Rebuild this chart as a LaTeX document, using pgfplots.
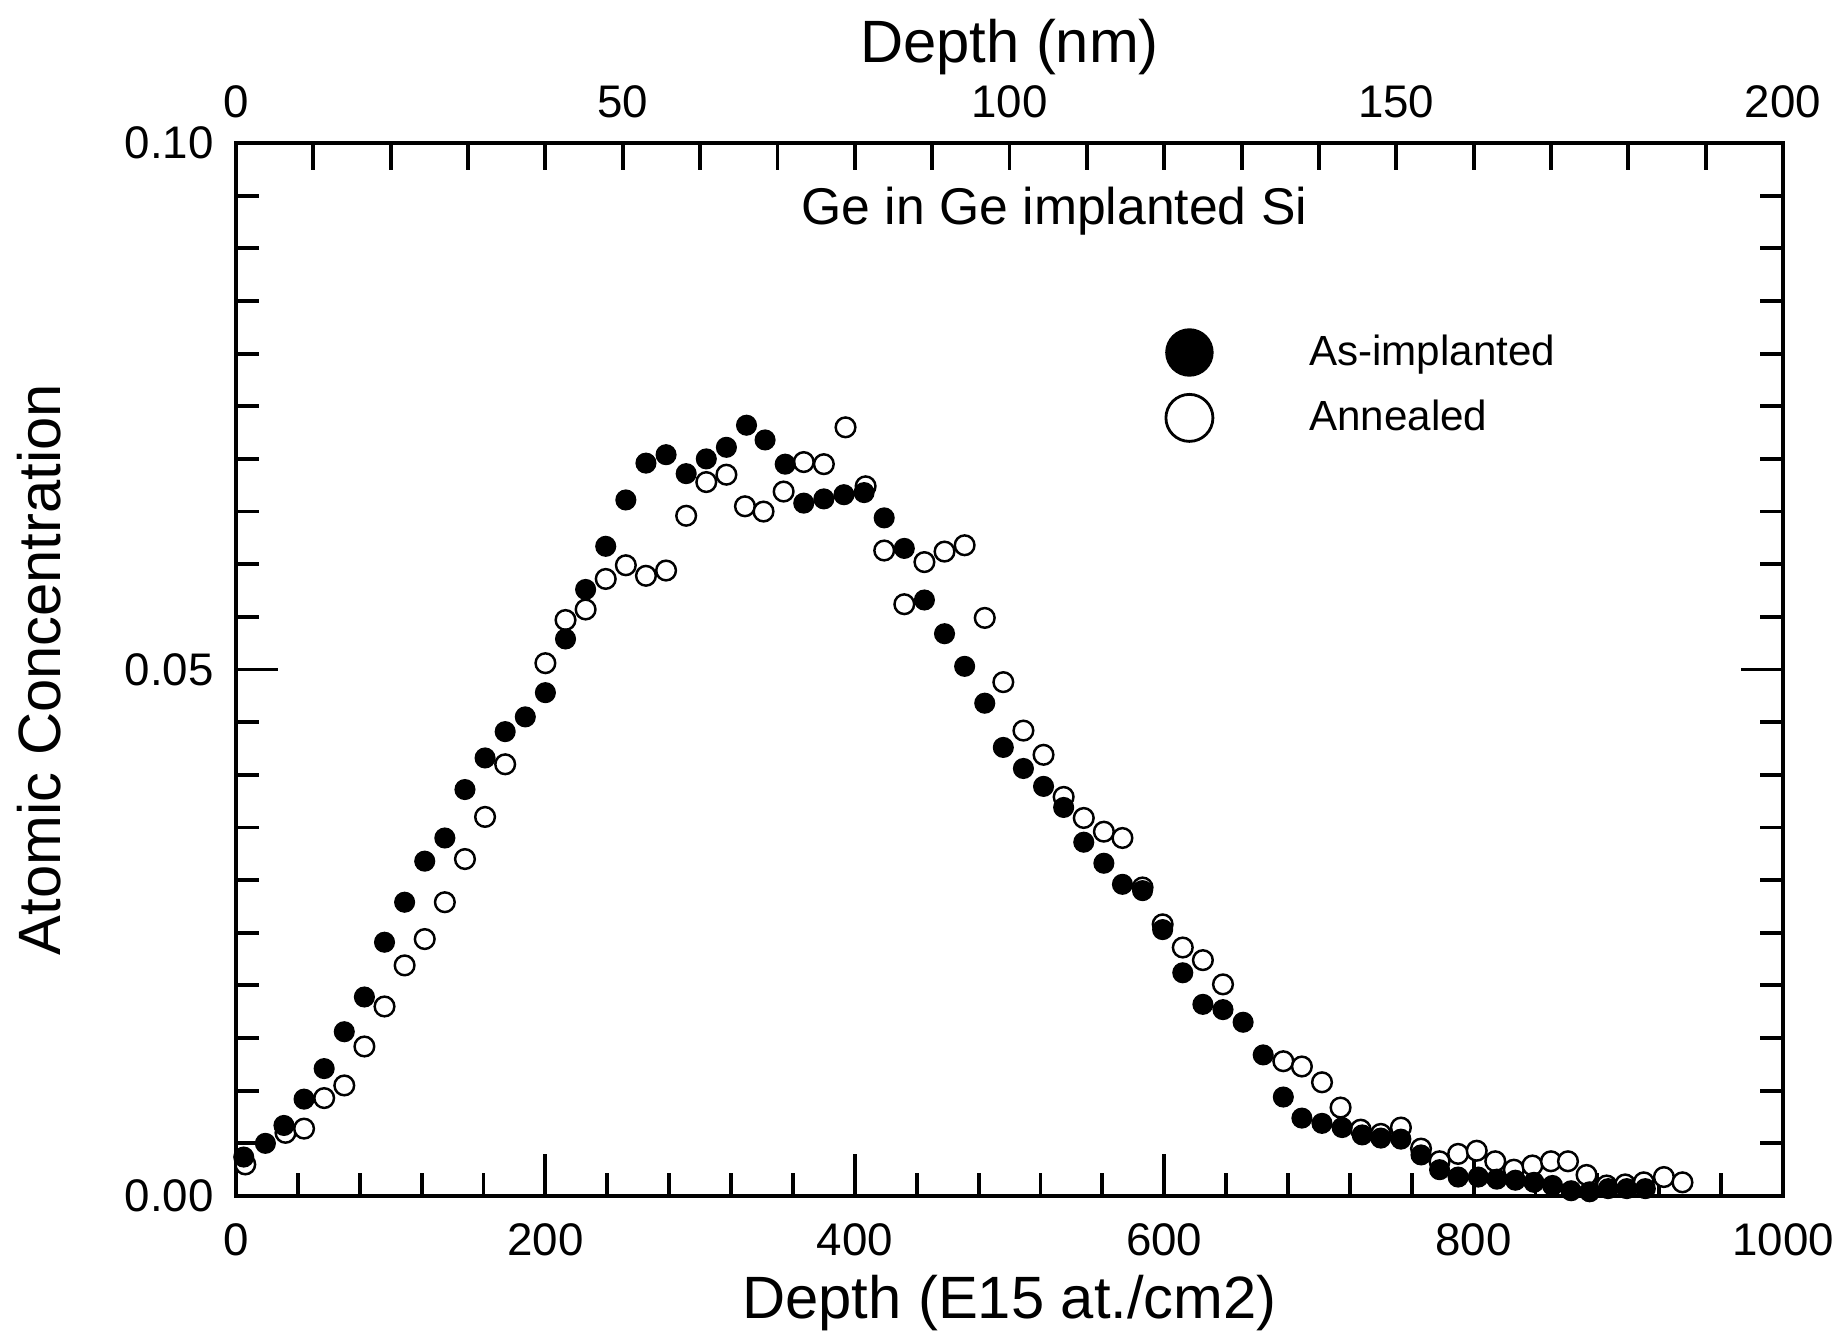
\documentclass[border=0pt]{standalone}
\usepackage{fontspec}
\setmainfont{Liberation Sans}
\usepackage{pgfplots}
\pgfplotsset{compat=1.18}
\usetikzlibrary{calc}

\begin{document}
\begin{tikzpicture}
  % bottom / left / right axes: depth in E15 at./cm2 against concentration
  \begin{axis}[
      name=main,
      scale only axis,
      width=15.47cm, height=10.53cm,
      xmin=0, xmax=1000, ymin=0, ymax=0.1,
      axis line style={line width=1.2pt},
      xtick={0,200,...,1000}, minor x tick num=4,
      ytick={0,0.05,0.1}, minor y tick num=9,
      xtick pos=left, ytick pos=both,
      tick align=inside,
      major tick length=0.42cm, minor tick length=0.23cm,
      tick style={black, line width=1.1pt},
      tick label style={font=\fontsize{13}{15}\selectfont},
      /pgf/number format/assume math mode=true,
      yticklabel style={xshift=-0.1cm, /pgf/number format/fixed,
        /pgf/number format/fixed zerofill, /pgf/number format/precision=2},
      xticklabel style={yshift=-0.15cm, /pgf/number format/1000 sep={}},
      xlabel={Depth (E15 at./cm2)},
      ylabel={Atomic Concentration},
      label style={font=\fontsize{17}{20}\selectfont},
      xlabel style={at={(axis description cs:0.5,-0.102)}, anchor=center},
      ylabel style={at={(axis description cs:-0.127,0.5)}, anchor=center},
      reverse legend,
      legend cell align=left,
      legend style={draw=none, fill=none, inner sep=0pt,
        at={(axis cs:596,0.0770)}, anchor=west,
        font=\fontsize{12}{14}\selectfont, row sep=0.155cm},
    ]
    % Annealed (open circles), drawn first so the filled ones sit on top
    \addplot[only marks, mark=*, mark size=2.8pt,
      mark options={draw=black, fill=white, line width=0.7pt},
      legend image code/.code={
        \draw[black, fill=white, line width=0.8pt] (0.3cm,0cm) circle (0.235cm);
        \path (0cm,0cm) (1.42cm,0cm);}]
      coordinates {
        (6,0.0030)   (32,0.0060)  (44,0.0064)  (57,0.0093)  (70,0.0105)
        (83,0.0142)  (96,0.0180)  (109,0.0219) (122,0.0244) (135,0.0279)
        (148,0.0320) (161,0.0360) (174,0.0410) (200,0.0506) (213,0.0547)
        (226,0.0557) (239,0.0586) (252,0.0599) (265,0.0589) (278,0.0594)
        (291,0.0646) (304,0.0678) (317,0.0685) (329,0.0655) (341,0.0650)
        (354,0.0669) (367,0.0697) (380,0.0695) (394,0.0730) (407,0.0674)
        (419,0.0613) (432,0.0562) (445,0.0602) (458,0.0612) (471,0.0618)
        (484,0.0549) (496,0.0488) (509,0.0442) (522,0.0419) (535,0.0379)
        (548,0.0359) (561,0.0346) (573,0.0340) (586,0.0293) (599,0.0258)
        (612,0.0236) (625,0.0224) (638,0.0201) (677,0.0128) (689,0.0123)
        (702,0.0108) (714,0.0084) (727,0.0063) (740,0.0059) (753,0.0065)
        (766,0.0045) (778,0.0033) (790,0.0040) (802,0.0043) (814,0.0033)
        (826,0.0025) (838,0.0029) (850,0.0033) (861,0.0033) (873,0.0020)
        (886,0.0010) (898,0.0011) (910,0.0013) (923,0.0018) (935,0.0013)
      };
    \addlegendentry{Annealed}
    % As-implanted (filled circles)
    \addplot[only marks, mark=*, mark size=2.8pt,
      mark options={draw=black, fill=black},
      legend image code/.code={
        \draw[black, fill=black] (0.3cm,0cm) circle (0.235cm);
        \path (0cm,0cm) (1.42cm,0cm);}]
      coordinates {
        (5,0.0037)   (19,0.0050)  (31,0.0067)  (44,0.0092)  (57,0.0121)
        (70,0.0156)  (83,0.0189)  (96,0.0241)  (109,0.0279) (122,0.0318)
        (135,0.0340) (148,0.0386) (161,0.0416) (174,0.0441) (187,0.0455)
        (200,0.0478) (213,0.0529) (226,0.0576) (239,0.0617) (252,0.0661)
        (265,0.0696) (278,0.0704) (291,0.0686) (304,0.0700) (317,0.0711)
        (330,0.0732) (342,0.0718) (355,0.0695) (367,0.0658) (380,0.0662)
        (393,0.0666) (406,0.0668) (419,0.0644) (432,0.0615) (445,0.0566)
        (458,0.0534) (471,0.0503) (484,0.0468) (496,0.0426) (509,0.0406)
        (522,0.0389) (535,0.0369) (548,0.0336) (561,0.0316) (573,0.0296)
        (586,0.0290) (599,0.0253) (612,0.0212) (625,0.0182) (638,0.0177)
        (651,0.0165) (664,0.0134) (677,0.0094) (689,0.0074) (702,0.0069)
        (715,0.0065) (728,0.0058) (740,0.0055) (753,0.0054) (766,0.0039)
        (778,0.0025) (790,0.0018) (803,0.0018) (815,0.0016) (827,0.0015)
        (839,0.0013) (851,0.0010) (863,0.0005) (875,0.0004) (887,0.0007)
        (899,0.0007) (911,0.0007)
      };
    \addlegendentry{As-implanted}
    \node[font=\fontsize{14.7}{17}\selectfont] at (axis cs:529,0.0935)
      {Ge in Ge implanted Si};
  \end{axis}
  % top axis: depth in nm
  \begin{axis}[
      scale only axis,
      width=15.47cm, height=10.53cm,
      xmin=0, xmax=200, ymin=0, ymax=0.1,
      axis x line*=top, hide y axis,
      axis line style={line width=1.2pt},
      xtick={0,50,...,200}, minor x tick num=4,
      tick align=inside,
      major tick length=0.27cm, minor tick length=0.27cm,
      tick style={black, line width=1.1pt},
      tick label style={font=\fontsize{13}{15}\selectfont},
      /pgf/number format/assume math mode=true,
      xticklabel style={yshift=0.13cm},
      xlabel={Depth (nm)},
      label style={font=\fontsize{17}{20}\selectfont},
      xlabel style={at={(axis description cs:0.5,1.091)}, anchor=center},
    ]
  \end{axis}
  % page margins as in the original figure
  \pgfresetboundingbox
  \path ($(main.south west)+(-2.36cm,-1.43cm)$)
    rectangle ($(main.north east)+(0.56cm,1.43cm)$);
\end{tikzpicture}
\end{document}
